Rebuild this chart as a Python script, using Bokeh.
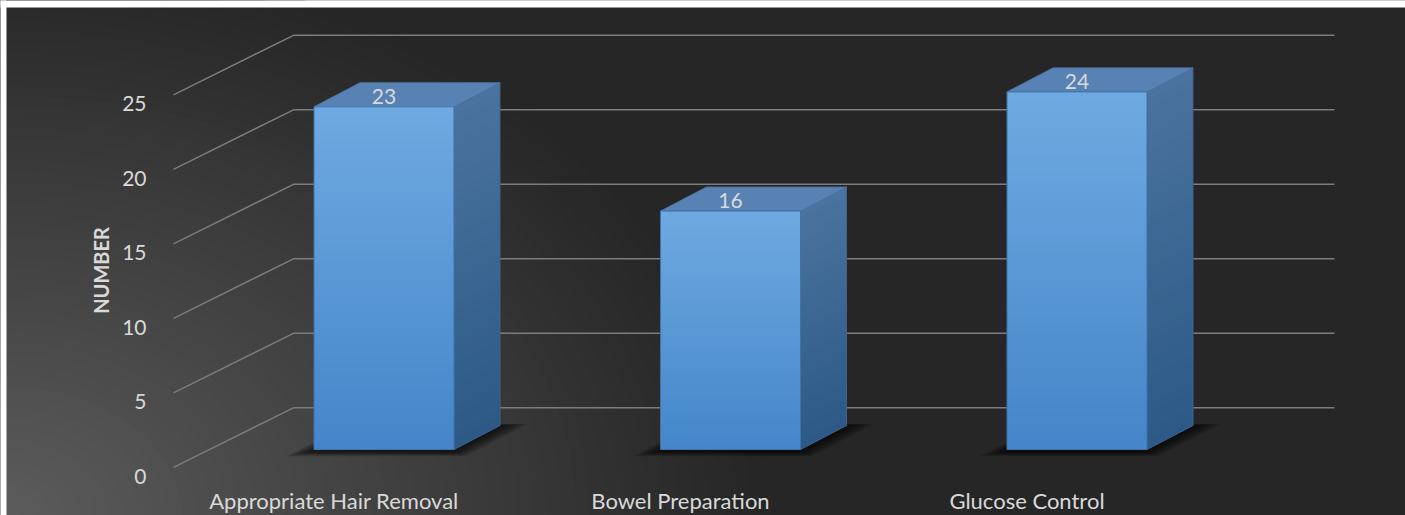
import numpy as np
from bokeh.plotting import figure
from bokeh.models import Range1d
from bokeh.core.properties import value
from bokeh.embed import file_html
from bokeh.resources import INLINE

# ---- data ----
categories = ["Appropriate Hair Removal", "Bowel Preparation", "Glucose Control"]
counts = [23, 16, 24]
y_ticks = [0, 5, 10, 15, 20, 25]
y_title = "NUMBER"

# ---- layout constants (pixel units on x, value units on y) ----
W, H = 1405, 515
PX_PER_UNIT = 14.9
BASE_PX = 449
Y0 = -(H - BASE_PX) / PX_PER_UNIT
Y1 = BASE_PX / PX_PER_UNIT
X0, STEP, HALF = 383.5, 346.5, 70
DX = 46
DY = 24 / PX_PER_UNIT
FONT = "Lato"
TXT = "#d9d9d9"

def px_y(py):
    return (BASE_PX - py) / PX_PER_UNIT

p = figure(width=W, height=H, x_range=Range1d(0, W), y_range=Range1d(Y0, Y1),
           output_backend="svg", toolbar_location=None,
           x_axis_location=None, y_axis_location=None, min_border=0)
p.grid.visible = False
p.outline_line_color = None
p.background_fill_color = "#262626"
p.border_fill_color = "#262626"

# ---- background radial gradient (lighter bottom-left) ----
N = 52
rx, ry = 760, 560
for k in range(N):
    t = 1 - k / N
    c = int(round(38 + 54 * (1 - t)))
    p.ellipse(x=6, y=px_y(515), width=2 * rx * t, height=2 * ry * t / PX_PER_UNIT,
              fill_color="#%02x%02x%02x" % (c, c, c), line_color=None)

# white border top/left
p.quad(left=[-5, -5], right=[6, W + 5], bottom=[Y0 - 1, px_y(7)], top=[Y1 + 1, Y1 + 1],
       fill_color="white", line_color=None)

# ---- gridlines (front diagonal + back wall) ----
for v in y_ticks:
    p.line(x=[173, 293, 1334], y=[v - 1.2, v + 2.8, v + 2.8],
           line_color="#7c7c7c", line_width=1.4)

# ---- shadows ----
for i, v in enumerate(counts):
    xl = X0 + STEP * i - HALF
    xr = X0 + STEP * i + HALF
    for s in range(7):
        e = 4 + s * 4
        ev = (1 + s * 0.7) / PX_PER_UNIT
        xs = [xl - e, xr + e * 0.4, xr + DX + e, xl + DX - e * 0.3]
        ys = [-ev - 0.1, -ev - 0.1, DY + ev * 0.3, DY + ev * 0.3]
        p.patch(x=xs, y=ys, fill_color="black", fill_alpha=0.13, line_color=None)

# ---- bars ----
def mix(c1, c2, f):
    a = [int(c1[j:j + 2], 16) for j in (1, 3, 5)]
    b = [int(c2[j:j + 2], 16) for j in (1, 3, 5)]
    return "#%02x%02x%02x" % tuple(int(round(a[j] + (b[j] - a[j]) * f)) for j in range(3))

NS = 40
for i, v in enumerate(counts):
    xl = X0 + STEP * i - HALF
    xr = X0 + STEP * i + HALF
    # side face: overlapping strips, each from its bottom up to the top
    sx, sy, sc = [], [], []
    for k in range(NS):
        y0 = v * k / NS
        f = 1 - (k + 0.5) / NS
        sx.append([xr, xr + DX, xr + DX, xr])
        sy.append([y0, y0 + DY, v + DY, v])
        sc.append(mix("#4b739f", "#2c5986", f))
    p.patches(xs=sx, ys=sy, fill_color=sc, line_color=None)
    p.patch(x=[xr, xr + DX, xr + DX, xr], y=[0, DY, v + DY, v],
            fill_color=None, line_color="#3a6590", line_width=1)
    # top face
    p.patch(x=[xl, xr, xr + DX, xl + DX], y=[v, v, v + DY, v + DY],
            fill_color="#5882b3", line_color="#4d77a6", line_width=1)
    # front face: overlapping strips
    fb, fc = [], []
    for k in range(NS):
        fb.append(v * k / NS)
        fc.append(mix("#70a9e1", "#4386c9", 1 - (k + 0.5) / NS))
    p.quad(left=xl, right=xr, bottom=fb, top=v, fill_color=fc, line_color=None)
    p.quad(left=[xl], right=[xr], bottom=[0], top=[v], fill_color=None,
           line_color="#3f73a8", line_width=1)

# ---- texts ----
p.text(x=[X0 + STEP * i for i in range(len(counts))], y=[v + 0.7 for v in counts],
       text=[str(v) for v in counts], text_font=value(FONT), text_font_size="21px",
       text_color=TXT, text_align="center", text_baseline="middle")

p.text(x=[146] * len(y_ticks), y=[v - 1.8 for v in y_ticks],
       text=[str(v) for v in y_ticks], text_font=value(FONT), text_font_size="21px",
       text_color=TXT, text_align="right", text_baseline="middle")

p.text(x=[X0 + STEP * i - 50 for i in range(len(categories))],
       y=[px_y(500)] * len(categories), text=categories, text_font=value(FONT),
       text_font_size="22px", text_color=TXT, text_align="center", text_baseline="middle")

p.text(x=[100], y=[px_y(270)], text=[y_title], angle=np.pi / 2, text_font=value(FONT),
       text_font_size="20px", text_font_style="bold", text_color=TXT,
       text_align="center", text_baseline="middle")

open("out.html", "w").write(file_html(p, INLINE))
